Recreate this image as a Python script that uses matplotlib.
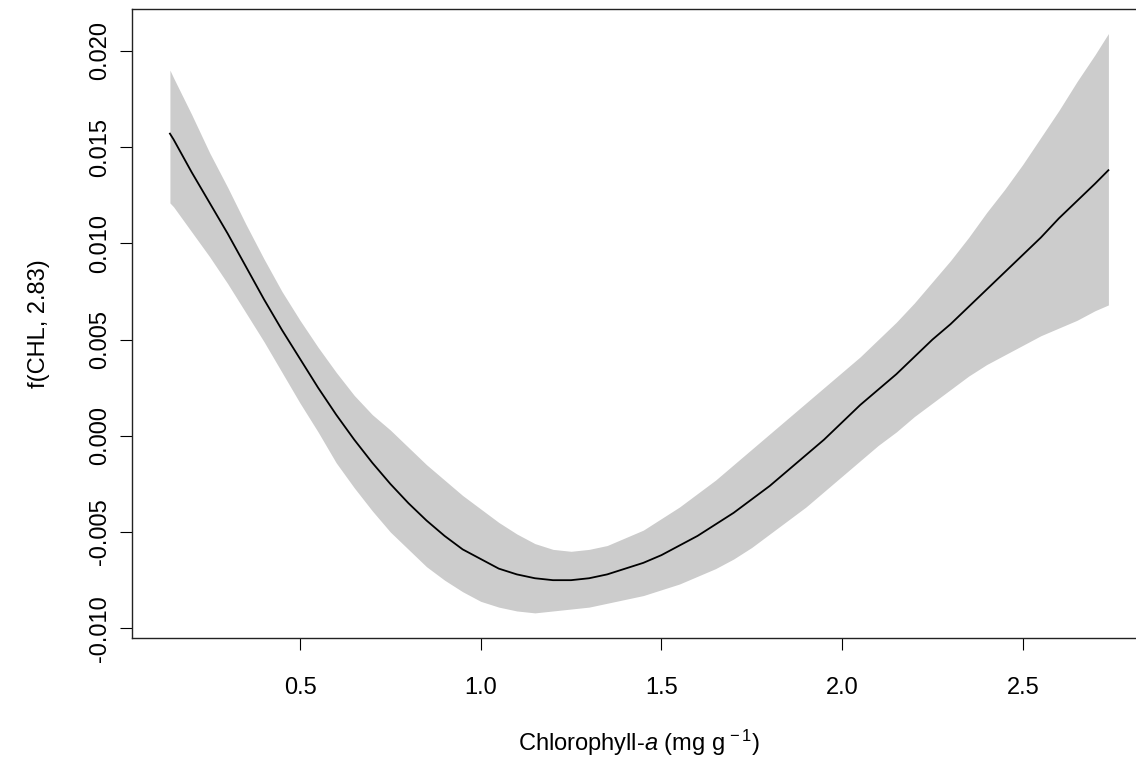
import numpy as np
import matplotlib
matplotlib.use("Agg")
import matplotlib.pyplot as plt

plt.rcParams['font.family'] = ['Liberation Sans', 'DejaVu Sans']
plt.rcParams['mathtext.fontset'] = 'custom'
plt.rcParams['mathtext.rm'] = 'Liberation Sans'
plt.rcParams['mathtext.it'] = 'Liberation Sans:italic'

# smooth term f(CHL) with its band
chl = [0.14, 0.15, 0.20, 0.25, 0.30, 0.35, 0.40, 0.45, 0.50, 0.55,
       0.60, 0.65, 0.70, 0.75, 0.80, 0.85, 0.90, 0.95, 1.00, 1.05,
       1.10, 1.15, 1.20, 1.25, 1.30, 1.35, 1.40, 1.45, 1.50, 1.55,
       1.60, 1.65, 1.70, 1.75, 1.80, 1.85, 1.90, 1.95, 2.00, 2.05,
       2.10, 2.15, 2.20, 2.25, 2.30, 2.35, 2.40, 2.45, 2.50, 2.55,
       2.60, 2.65, 2.70, 2.737]
fit = [0.0157, 0.0154, 0.0137, 0.0121, 0.0105, 0.0088, 0.0071, 0.0055, 0.0040, 0.0025,
       0.0011, -0.0002, -0.0014, -0.0025, -0.0035, -0.0044, -0.0052, -0.0059, -0.0064, -0.0069,
       -0.0072, -0.0074, -0.0075, -0.0075, -0.0074, -0.0072, -0.0069, -0.0066, -0.0062, -0.0057,
       -0.0052, -0.0046, -0.0040, -0.0033, -0.0026, -0.0018, -0.0010, -0.0002, 0.0007, 0.0016,
       0.0024, 0.0032, 0.0041, 0.0050, 0.0058, 0.0067, 0.0076, 0.0085, 0.0094, 0.0103,
       0.0113, 0.0122, 0.0131, 0.0138]
upper = [0.0190, 0.0186, 0.0167, 0.0147, 0.0129, 0.0110, 0.0092, 0.0075, 0.0060, 0.0046,
         0.0033, 0.0021, 0.0011, 0.0003, -0.0006, -0.0015, -0.0023, -0.0031, -0.0038, -0.0045,
         -0.0051, -0.0056, -0.0059, -0.0060, -0.0059, -0.0057, -0.0053, -0.0049, -0.0043, -0.0037,
         -0.0030, -0.0023, -0.0015, -0.0007, 0.0001, 0.0009, 0.0017, 0.0025, 0.0033, 0.0041,
         0.0050, 0.0059, 0.0069, 0.0080, 0.0091, 0.0103, 0.0116, 0.0128, 0.0141, 0.0155,
         0.0169, 0.0184, 0.0198, 0.0209]
lower = [0.0121, 0.0119, 0.0106, 0.0093, 0.0079, 0.0064, 0.0049, 0.0033, 0.0017, 0.0002,
         -0.0014, -0.0027, -0.0039, -0.0050, -0.0059, -0.0068, -0.0075, -0.0081, -0.0086, -0.0089,
         -0.0091, -0.0092, -0.0091, -0.0090, -0.0089, -0.0087, -0.0085, -0.0083, -0.0080, -0.0077,
         -0.0073, -0.0069, -0.0064, -0.0058, -0.0051, -0.0044, -0.0037, -0.0029, -0.0021, -0.0013,
         -0.0005, 0.0002, 0.0010, 0.0017, 0.0024, 0.0031, 0.0037, 0.0042, 0.0047, 0.0052,
         0.0056, 0.0060, 0.0065, 0.0068]

xticks = [0.5, 1.0, 1.5, 2.0, 2.5]
yticks = [-0.010, -0.005, 0.000, 0.005, 0.010, 0.015, 0.020]

fig = plt.figure(figsize=(11.36, 7.62), dpi=100)
# right edge of the box runs off the picture, as in the original
ax = fig.add_axes([0.1165, 0.1631, 0.8923, 0.8247])

ax.fill_between(chl, lower, upper, color='#cccccc', linewidth=0)
ax.plot(chl, fit, color='black', linewidth=1.3)

ax.set_xlim(0.036, 2.841)
ax.set_ylim(-0.01049, 0.02216)
ax.set_xticks(xticks)
ax.set_xticklabels([f"{v:.1f}" for v in xticks])
ax.set_yticks(yticks)
ax.set_yticklabels([f"{v:.3f}" for v in yticks], rotation=90, va='center')

ax.tick_params(axis='both', direction='out', length=8.5, width=0.8, labelsize=17, colors='black')
ax.tick_params(axis='x', pad=19.5)
ax.tick_params(axis='y', pad=7)
for s in ax.spines.values():
    s.set_linewidth(1.0)
    s.set_color('#222222')

ax.set_xlabel(r'Chlorophyll-$\mathit{a}$ (mg g$^{\,-1}$)', fontsize=17, labelpad=21)
ax.set_ylabel('f(CHL, 2.83)', fontsize=17, labelpad=28)

fig.savefig('out.png', dpi=100)
